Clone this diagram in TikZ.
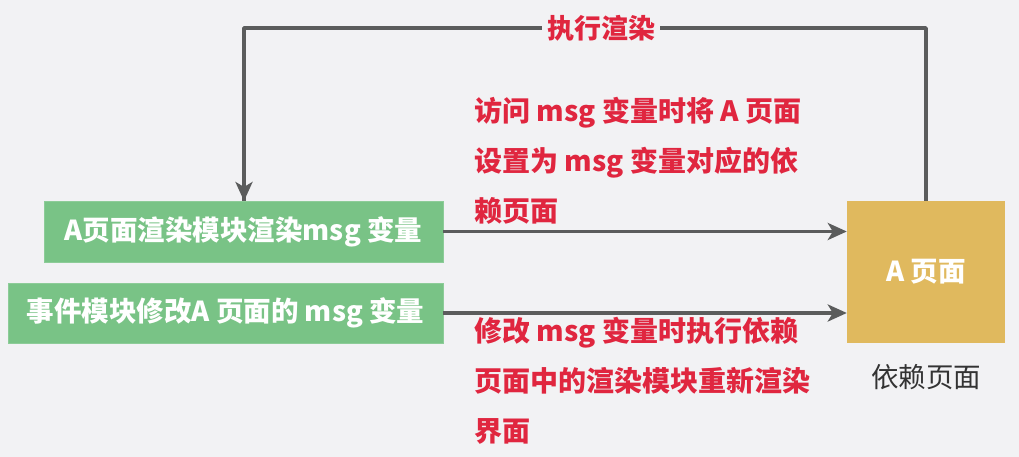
\documentclass[tikz,border=0pt]{standalone}
\usepackage{fontspec}
\setmainfont{Noto Sans CJK SC}
\usetikzlibrary{arrows.meta}
\definecolor{bg}{HTML}{F2F2F4}
\definecolor{gfill}{HTML}{79C386}
\definecolor{yfill}{HTML}{E0B95E}
\definecolor{lred}{HTML}{E0263F}
\definecolor{lgrey}{HTML}{5B5C5C}
\definecolor{dtext}{HTML}{333333}
\tikzset{
  gbox/.style={fill=gfill, draw=gfill!85!white, line width=0.8pt, text=white, font=\fontsize{27.5}{30}\selectfont\bfseries, inner sep=0pt},
  ybox/.style={fill=yfill, draw=none, text=white, font=\fontsize{27.5}{30}\selectfont\bfseries, inner sep=0pt},
  conn/.style={draw=lgrey, line width=3.5pt, -{Stealth[length=19pt,width=17pt,inset=5pt]}},
  loopline/.style={draw=lgrey, line width=3.5pt, line join=round},
  rednote/.style={text=lred, font=\fontsize{28}{50}\selectfont\bfseries, align=left, anchor=north west, inner sep=0pt},
  lbl/.style={text=lred, font=\fontsize{27}{30}\selectfont\bfseries, fill=bg, inner sep=5pt},
  caption/.style={text=dtext, font=\fontsize{27.5}{30}\selectfont, inner sep=0pt}
}
\begin{document}
\begin{tikzpicture}[x=1pt,y=-1pt]
\fill[bg] (0,0) rectangle (1019,457);
\useasboundingbox (0,0) rectangle (1019,457);
\node[gbox, minimum width=399pt, minimum height=61pt] (render) at (243.5,231.5) {A页面渲染模块渲染msg 变量};
\node[gbox, minimum width=435pt, minimum height=60pt] (event) at (225.5,313) {事件模块修改A 页面的 msg 变量};
\node[ybox, minimum width=158pt, minimum height=142pt] (page) at (926,272) {A 页面};
\node[caption] (cap) at (926,377) {依赖页面};
\draw[conn] (render.east) -- (render.east -| page.west);
\draw[conn] (event.east) -- (event.east -| page.west);
\coordinate (tr) at (926,28);
\coordinate (tl) at (244,28);
\coordinate (rtop) at (244,201);
\draw[loopline] (page.north) -- (tr) -- (tl) -- (rtop);
\draw[conn] (244,190) -- (rtop);
\node[lbl] (exec) at (601,28) {执行渲染};
\node[rednote] (note1) at (474,97) {访问 msg 变量时将 A 页面\\设置为 msg 变量对应的依\\赖页面};
\node[rednote] (note2) at (474,317) {修改 msg 变量时执行依赖\\页面中的渲染模块重新渲染\\界面};
\end{tikzpicture}
\end{document}
